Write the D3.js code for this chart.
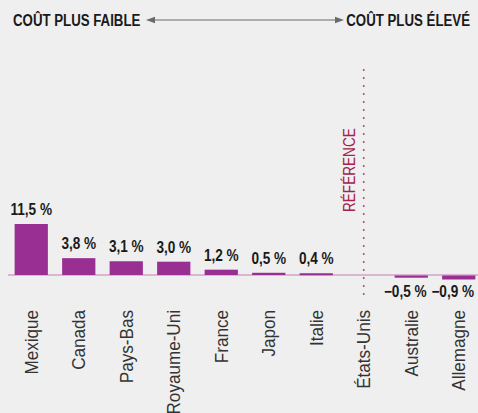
<!DOCTYPE html>
<html>
<head>
<meta charset="utf-8">
<script src="https://cdn.jsdelivr.net/npm/d3@7"></script>
<style>
  html, body { margin: 0; padding: 0; background: #efefef; }
  svg { display: block; }
  text { font-family: "Liberation Sans", Arial, sans-serif; }
</style>
</head>
<body>
<div id="chart"></div>
<script>
// Coût relatif par pays, États-Unis = référence
const countries = ["Mexique", "Canada", "Pays-Bas", "Royaume-Uni", "France", "Japon", "Italie", "États-Unis", "Australie", "Allemagne"];
const values = [11.5, 3.8, 3.1, 3.0, 1.2, 0.5, 0.4, null, -0.5, -0.9];
const valueLabels = ["11,5 %", "3,8 %", "3,1 %", "3,0 %", "1,2 %", "0,5 %", "0,4 %", null, "\u22120,5 %", "\u22120,9 %"];
const referenceCountry = "États-Unis";
const headerLeft = "COÛT PLUS FAIBLE";
const headerRight = "COÛT PLUS ÉLEVÉ";
const referenceLabel = "RÉFÉRENCE";

const W = 478, H = 413;
const BAR = "#9a2f93";
const NARROW = 0.78; // no condensed face installed, squeeze horizontally

const svg = d3.select("#chart").append("svg")
  .attr("width", W)
  .attr("height", H);

svg.append("rect").attr("width", W).attr("height", H).attr("fill", "#efefef");

// scales
const x = d3.scaleBand()
  .domain(countries)
  .range([7.5, 482.5])
  .paddingInner(0.3)
  .paddingOuter(0.15);

const y = d3.scaleLinear()
  .domain([0, 11.5])
  .range([275, 224]);

// ---- header with double arrow ----
svg.append("text")
  .attr("transform", `translate(13,25.5) scale(${NARROW},1)`)
  .attr("font-size", 17).attr("font-weight", "bold")
  .attr("fill", "#1a1a1a")
  .text(headerLeft);

svg.append("text")
  .attr("transform", `translate(470,25.5) scale(${NARROW},1)`)
  .attr("text-anchor", "end")
  .attr("font-size", 17).attr("font-weight", "bold")
  .attr("fill", "#1a1a1a")
  .text(headerRight);

svg.append("line")
  .attr("x1", 152).attr("x2", 338)
  .attr("y1", 20).attr("y2", 20)
  .attr("stroke", "#6a6a6a").attr("stroke-width", 1.2);

svg.append("path")
  .attr("d", "M146,20 L155,16.8 L155,23.2 Z")
  .attr("fill", "#6a6a6a");
svg.append("path")
  .attr("d", "M344,20 L335,16.8 L335,23.2 Z")
  .attr("fill", "#6a6a6a");

// ---- reference dotted line ----
const refX = x(referenceCountry) + x.bandwidth() / 2;
svg.append("line")
  .attr("x1", refX).attr("x2", refX)
  .attr("y1", 70).attr("y2", 302)
  .attr("stroke", "#a5496f")
  .attr("stroke-width", 2)
  .attr("stroke-linecap", "round")
  .attr("stroke-dasharray", "0,8");

svg.append("text")
  .attr("transform", `translate(${refX - 9},212) rotate(-90) scale(0.8,1)`)
  .attr("font-size", 17)
  .attr("fill", "#a3234c")
  .text(referenceLabel);

// ---- baseline ----
svg.append("line")
  .attr("x1", 8).attr("x2", W)
  .attr("y1", y(0)).attr("y2", y(0))
  .attr("stroke", "#c47ab9").attr("stroke-width", 1);

// ---- bars ----
const data = countries.map((c, i) => ({ c, v: values[i], label: valueLabels[i] }));
const withVal = data.filter(d => d.v !== null);

svg.append("g").selectAll("rect")
  .data(withVal)
  .join("rect")
  .attr("x", d => x(d.c))
  .attr("width", x.bandwidth())
  .attr("y", d => d.v >= 0 ? y(d.v) : y(0) + 0.5)
  .attr("height", d => Math.max(2, Math.abs(y(d.v) - y(0))))
  .attr("fill", BAR);

// value labels
svg.append("g").selectAll("text")
  .data(withVal)
  .join("text")
  .attr("transform", d => {
    const cx = x(d.c) + x.bandwidth() / 2 + (d.v < 0 ? -6 : 0);
    const ty = d.v >= 0 ? y(d.v) - 9 : 297;
    return `translate(${cx},${ty}) scale(0.85,1)`;
  })
  .attr("text-anchor", "middle")
  .attr("font-size", 16)
  .attr("font-weight", "bold")
  .attr("fill", "#1a1a1a")
  .text(d => d.label);

// category labels
svg.append("g").selectAll("text")
  .data(countries)
  .join("text")
  .attr("transform", d => `translate(${x(d) + x.bandwidth() / 2 + 6.5},310) rotate(-90) scale(0.9,1)`)
  .attr("text-anchor", "end")
  .attr("font-size", 19)
  .attr("fill", "#333")
  .text(d => d);
</script>
</body>
</html>
